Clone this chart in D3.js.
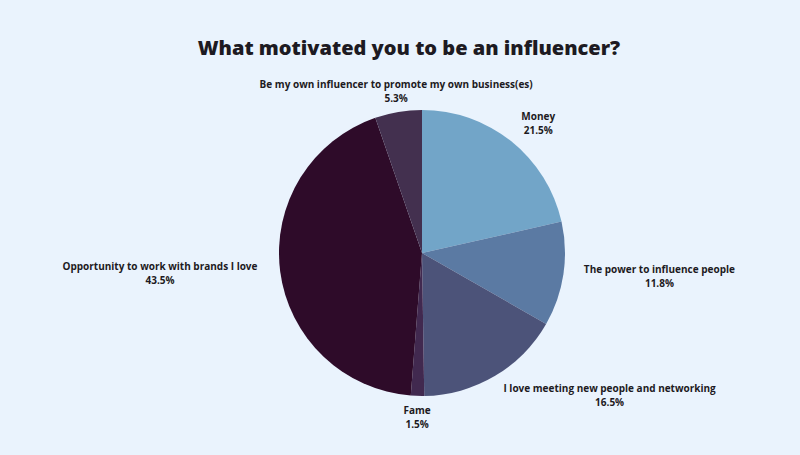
<!DOCTYPE html>
<meta charset="utf-8">
<style>
body { margin: 0; background: #eaf3fd; }
text { font-family: "Open Sans", Lato, sans-serif; fill: #1d1a22; }
.label { font-size: 10px; font-weight: bold; }
.title { font-size: 20px; font-weight: 800; }
</style>
<body>
<script src="https://d3js.org/d3.v7.min.js"></script>
<script>
var categories = ["Money", "The power to influence people", "I love meeting new people and networking",
                  "Fame", "Opportunity to work with brands I love", "Be my own influencer to promote my own business(es)"];
var values = [21.5, 11.8, 16.5, 1.5, 43.5, 5.3];
var colors = ["#72a5c8", "#5b7aa3", "#4c5379", "#41294f", "#2e0b29", "#43304f"];

var width = 800, height = 455,
    cx = 422, cy = 253, radius = 143;

var svg = d3.select("body").append("svg")
  .attr("width", width)
  .attr("height", height);

svg.append("rect").attr("width", width).attr("height", height).attr("fill", "#eaf3fd");

svg.append("text")
  .attr("class", "title")
  .attr("x", 409)
  .attr("y", 55)
  .attr("text-anchor", "middle")
  .text("What motivated you to be an influencer?");

var data = categories.map(function(c, i) { return {name: c, value: values[i], color: colors[i]}; });

var pie = d3.pie().sort(null).value(function(d) { return d.value; });
var arc = d3.arc().innerRadius(0).outerRadius(radius);

var g = svg.append("g").attr("transform", "translate(" + cx + "," + cy + ")");
var arcs = pie(data);

g.selectAll("path")
  .data(arcs)
  .enter().append("path")
  .attr("d", arc)
  .attr("fill", function(d) { return d.data.color; });

// each label block touches the ray through its slice with its nearest edge
var labelR = 156;
var lab = g.selectAll("g.lab")
  .data(arcs)
  .enter().append("g")
  .attr("class", "lab");

lab.append("text").attr("class", "label").attr("text-anchor", "middle")
  .attr("y", -3).text(function(d) { return d.data.name; });
lab.append("text").attr("class", "label").attr("text-anchor", "middle")
  .attr("y", 11).text(function(d) { return d.data.value.toFixed(1) + "%"; });

function push(v) {
  var m = Math.max(0, Math.min(1, (Math.abs(v) - 0.2) * 3));
  return v < 0 ? -m : m;
}

lab.attr("transform", function(d) {
  var a = (d.startAngle + d.endAngle) / 2;
  var s = Math.sin(a), c = Math.cos(a);
  var w = this.getBBox().width, h = 16;
  var x = s * labelR + push(s) * w * 0.55;
  var y = -c * labelR - push(c) * h / 2;
  return "translate(" + x + "," + y + ")";
});
</script>
</body>
